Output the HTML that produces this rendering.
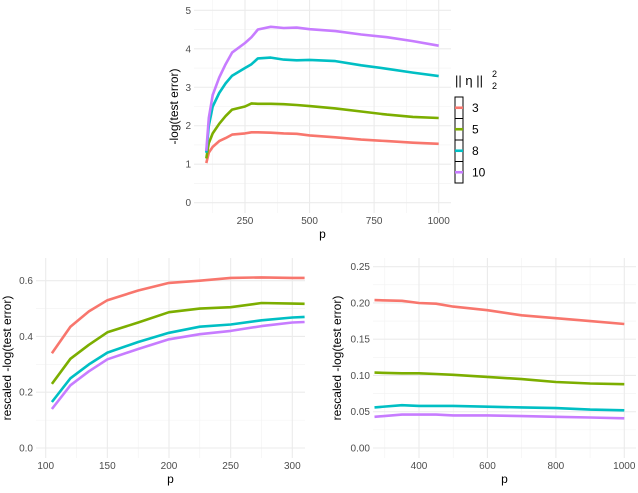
<!DOCTYPE html>
<html><head><meta charset="utf-8"><style>
body{margin:0;background:#fff;font-family:"Liberation Sans",sans-serif}
svg text{font-family:"Liberation Sans",sans-serif}
</style></head><body>
<svg id="c" width="638" height="488" xmlns="http://www.w3.org/2000/svg"></svg>
<script>
const colors=["#F8766D","#7CAE00","#00BFC4","#C77CFF"];
const legendLabels=["3","5","8","10"];
const topP=[100,110,125,150,175,200,250,275,300,350,400,450,500,600,700,800,900,1000];
const topRed=[1.03,1.3,1.45,1.6,1.68,1.77,1.8,1.83,1.83,1.82,1.8,1.79,1.75,1.70,1.64,1.6,1.56,1.53];
const topGreen=[1.15,1.55,1.8,2.05,2.25,2.42,2.5,2.58,2.57,2.57,2.56,2.54,2.51,2.45,2.37,2.29,2.23,2.2];
const topCyan=[1.3,2.0,2.5,2.85,3.1,3.3,3.5,3.6,3.75,3.77,3.72,3.7,3.71,3.68,3.57,3.48,3.38,3.29];
const topPurple=[1.35,2.2,2.8,3.25,3.6,3.9,4.15,4.3,4.5,4.57,4.54,4.55,4.51,4.46,4.37,4.3,4.2,4.08];
const blP=[105,120,135,150,175,200,225,250,275,300,310];
const blRed=[0.34,0.435,0.49,0.53,0.565,0.592,0.6,0.61,0.612,0.61,0.61];
const blGreen=[0.23,0.32,0.37,0.415,0.45,0.487,0.5,0.505,0.52,0.518,0.517];
const blCyan=[0.165,0.25,0.3,0.342,0.38,0.413,0.435,0.443,0.458,0.468,0.47];
const blPurple=[0.14,0.225,0.275,0.318,0.355,0.39,0.408,0.42,0.437,0.45,0.452];
const brP=[270,350,400,450,500,600,700,800,900,1000];
const brRed=[0.204,0.203,0.2,0.199,0.195,0.19,0.183,0.179,0.175,0.171];
const brGreen=[0.104,0.103,0.103,0.102,0.101,0.098,0.095,0.091,0.089,0.088];
const brCyan=[0.056,0.059,0.058,0.058,0.058,0.057,0.056,0.055,0.053,0.052];
const brPurple=[0.043,0.046,0.046,0.046,0.045,0.045,0.044,0.043,0.042,0.041];
const topXTicks=[250,500,750,1000];
const topYTicks=[0,1,2,3,4,5];
const blXTicks=[100,150,200,250,300];
const blYTicks=[0,0.2,0.4,0.6];
const brXTicks=[400,600,800,1000];
const brYTicks=[0,0.05,0.1,0.15,0.2,0.25];

const svg=document.getElementById('c');
const NS="http://www.w3.org/2000/svg";
function mk(t,a,parent){const e=document.createElementNS(NS,t);for(const k in a)e.setAttribute(k,a[k]);(parent||svg).appendChild(e);return e;}

function panel(name,box,xd,yd,xr,yr,xt,yt,xMinor,yMinor,fmt,series,p,ytitle){
  const g=mk('g',{});
  
  
  const sx=v=>xr[0]+(v-xd[0])/(xd[1]-xd[0])*(xr[1]-xr[0]);
  const sy=v=>yr[0]+(v-yd[0])/(yd[1]-yd[0])*(yr[1]-yr[0]);
  xMinor.forEach(v=>{const l=mk('line',{x1:sx(v),x2:sx(v),y1:box[1],y2:box[3],stroke:'#f2f2f2','stroke-width':0.6},g);});
  yMinor.forEach(v=>{const l=mk('line',{x1:box[0],x2:box[2],y1:sy(v),y2:sy(v),stroke:'#f2f2f2','stroke-width':0.6},g);});
  xt.forEach(v=>{const l=mk('line',{x1:sx(v),x2:sx(v),y1:box[1],y2:box[3],stroke:'#ebebeb','stroke-width':1.1},g);
    const t=mk('text',{x:sx(v),y:box[3]+11,'font-size':10,fill:'#4d4d4d','text-anchor':'middle'},g);t.textContent=v;});
  yt.forEach(v=>{const l=mk('line',{x1:box[0],x2:box[2],y1:sy(v),y2:sy(v),stroke:'#ebebeb','stroke-width':1.1},g);
    const t=mk('text',{x:box[0]-3,y:sy(v)+3.5,'font-size':10,fill:'#4d4d4d','text-anchor':'end'},g);t.textContent=fmt(v);});
  series.forEach((s,i)=>{const d=s.map((v,j)=>(j?'L':'M')+sx(p[j]).toFixed(1)+','+sy(v).toFixed(1)).join('');
    const l=mk('path',{d:d,fill:'none',stroke:colors[i],'stroke-width':2.6,'stroke-linejoin':'round'},g);});
  const xtl=mk('text',{x:(box[0]+box[2])/2,y:box[3]+25,'font-size':12,fill:'#000','text-anchor':'middle'},g);xtl.textContent='p';
  const cy=(box[1]+box[3])/2, tx=ytitle.x;
  const ytl=mk('text',{x:tx,y:cy,'font-size':12,fill:'#000','text-anchor':'middle',transform:'rotate(-90 '+tx+' '+cy+')'},g);ytl.textContent=ytitle.t;
}
const f0=v=>String(v), f1=v=>v.toFixed(1), f2=v=>v.toFixed(2);
panel('top-panel',[194,0,451,213],[250,1000],[0,5],[245,438.7],[202.7,10.3],topXTicks,topYTicks,[125,375,625,875],[0.5,1.5,2.5,3.5,4.5],f0,[topRed,topGreen,topCyan,topPurple],topP,{x:178,t:'-log(test error)'});
panel('bottom-left-panel',[36,258,305,458],[100,300],[0,0.6],[45.7,292.3],[448,280.7],blXTicks,blYTicks,[125,175,225,275],[0.1,0.3,0.5],f1,[blRed,blGreen,blCyan,blPurple],blP,{x:11,t:'rescaled -log(test error)'});
panel('bottom-right-panel',[373,258,636,458],[400,1000],[0,0.25],[419,624.3],[448,266.7],brXTicks,brYTicks,[300,500,700,900],[0.025,0.075,0.125,0.175,0.225],f2,[brRed,brGreen,brCyan,brPurple],brP,{x:341,t:'rescaled -log(test error)'});

// legend
const lg=mk('g',{});


const lt=mk('text',{x:455,y:85,'font-size':13,fill:'#000'},lg);lt.textContent='|| η ||';


const s1=mk('text',{x:492,y:77,'font-size':9,fill:'#000'},lg);s1.textContent='2';


const s2=mk('text',{x:492,y:89,'font-size':9,fill:'#000'},lg);s2.textContent='2';


legendLabels.forEach((lab,i)=>{const y=97+i*21.5;
  const r=mk('rect',{x:455,y:y,width:8,height:21.5,fill:'#fff',stroke:'#000','stroke-width':1},lg);
  
  
  mk('line',{x1:455,x2:463,y1:y+10.75,y2:y+10.75,stroke:colors[i],'stroke-width':2.6},lg);
  const t=mk('text',{x:472,y:y+15,'font-size':12,fill:'#000'},lg);t.textContent=lab;
  
  
});
</script>
</body></html>
